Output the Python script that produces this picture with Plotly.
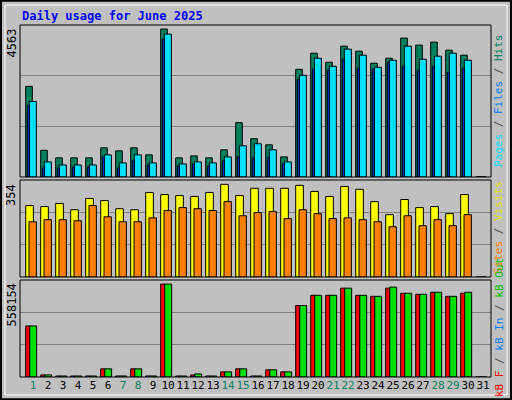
import plotly.graph_objects as go

days = list(range(1, 32))
hits = [2794, 823, 590, 590, 590, 900, 807, 900, 683, 4563, 590, 652, 590, 838, 1676, 1180, 993, 621,
        3321, 3818, 3539, 4035, 3880, 3508, 3663, 4284, 4066, 4159, 3911, 3756, 0]
files = [2328, 466, 372, 372, 372, 683, 435, 683, 435, 4408, 404, 466, 435, 621, 962, 1024, 838, 466,
         3135, 3663, 3414, 3942, 3756, 3383, 3601, 4035, 3632, 3725, 3818, 3601, 0]
pages = [2204, 279, 279, 310, 310, 621, 279, 497, 372, 4252, 341, 404, 341, 497, 621, 590, 590, 404,
         3011, 3321, 3290, 3632, 3352, 3321, 3539, 3414, 3290, 3414, 3228, 3352, 0]
visits = [273, 269, 281, 257, 300, 292, 261, 257, 323, 315, 311, 308, 323, 354, 311, 339, 339, 339,
          350, 327, 308, 346, 335, 288, 238, 296, 265, 269, 242, 315, 0]
sites = [211, 219, 219, 215, 273, 230, 211, 211, 226, 254, 265, 261, 254, 288, 234, 246, 250, 223,
         257, 242, 223, 226, 219, 211, 192, 234, 196, 219, 196, 238, 0]
kb_out = [306675, 12267, 6134, 6134, 6134, 49068, 6134, 49068, 6134, 558154, 6134, 18401, 6134, 30668,
          49068, 6134, 42935, 30668, 429345, 490680, 490680, 533615, 490680, 484547, 539748, 502947,
          496814, 509081, 484547, 509081, 0]
kb_f = [306675, 12267, 6134, 6134, 6134, 49068, 6134, 49068, 6134, 558154, 6134, 12267, 6134, 30668,
        49068, 6134, 42935, 30668, 429345, 490680, 490680, 533615, 490680, 484547, 533615, 502947,
        496814, 509081, 484547, 502947, 0]
kb_in = [2500] * 30 + [0]
weekend = {1, 7, 8, 14, 15, 21, 22, 28, 29}
max1, max2, max3 = 4563, 354, 558154
top1, top2, top3 = max1 * 151 / 147, max2 * 96 / 91.7, max3 * 285 / 273

fig = go.Figure()
LINE = dict(color="black", width=1)

def bars(y, color, off, w, axis, line=True):
    fig.add_trace(go.Bar(x=days, y=y, offset=off, width=w, marker_color=color,
                         marker_line=LINE if line else dict(width=0),
                         xaxis="x" if axis == 1 else f"x{axis}",
                         yaxis="y" if axis == 1 else f"y{axis}", showlegend=False, hoverinfo="skip"))

bars(hits, "#00805C", -0.49, 0.44, 1)
bars(files, "#00E0FF", -0.25, 0.47, 1)
bars(pages, "#0040FF", -0.38, 0.13, 1)
bars(visits, "#FFFF00", -0.49, 0.51, 2)
bars(sites, "#FF8000", -0.27, 0.49, 2)
bars(kb_f, "#FF0000", -0.49, 0.30, 3)
bars(kb_out, "#00E000", -0.22, 0.46, 3)
bars(kb_in, "#0040FF", -0.40, 0.06, 3, line=False)

xd = [20 / 512, 491 / 512]
xr = [0.13, 31.53]
ticktext = [f"<span style='color:#00805C'>{d}</span>" if d in weekend else str(d) for d in days]
common_x = dict(range=xr, domain=xd, showgrid=False, zeroline=False, fixedrange=True)
lay = dict(
    width=512, height=400, margin=dict(l=0, r=0, t=0, b=0),
    paper_bgcolor="#C0C0C0", plot_bgcolor="#C0C0C0", barmode="overlay",
    font=dict(family="DejaVu Sans Mono", size=12, color="black"),
    xaxis=dict(**common_x, showticklabels=False, anchor="y"),
    xaxis2=dict(**common_x, showticklabels=False, anchor="y2"),
    xaxis3=dict(**common_x, anchor="y3", tickvals=days, ticktext=ticktext, ticks="", tickangle=0,
                tickfont=dict(size=11, family="DejaVu Sans Mono")),
)
for i, (top, dom) in enumerate([(top1, [1 - 177 / 400, 1 - 25 / 400]),
                                (top2, [1 - 277 / 400, 1 - 180 / 400]),
                                (top3, [1 - 377 / 400, 1 - 280 / 400])], start=1):
    lay["yaxis" if i == 1 else f"yaxis{i}"] = dict(
        range=[0, top], domain=dom, tickvals=[top / 3, 2 * top / 3], showticklabels=False,
        gridcolor="#808080", gridwidth=1, zeroline=False, fixedrange=True,
        anchor="x" if i == 1 else f"x{i}")
fig.update_layout(**lay)

shapes = [
    dict(type="rect", xref="paper", yref="paper", x0=0.002, y0=0.002, x1=0.998, y1=0.998,
         line=dict(color="black", width=2), layer="below"),
    dict(type="rect", xref="paper", yref="paper", x0=5 / 512, y0=5 / 400, x1=507 / 512, y1=395 / 400,
         line=dict(color="white", width=1), layer="below"),
]
for dom in [(177, 25), (277, 180), (377, 280)]:
    shapes.append(dict(type="rect", xref="paper", yref="paper", x0=xd[0], x1=xd[1],
                       y0=1 - dom[0] / 400, y1=1 - dom[1] / 400, line=dict(color="black", width=1)))
fig.update_layout(shapes=shapes)

ann = [dict(text="<b>Daily usage for June 2025</b>", x=20 / 512, y=1 - 16 / 400, xref="paper", yref="paper",
            xanchor="left", yanchor="middle", showarrow=False,
            font=dict(color="#0000FF", size=12, family="DejaVu Sans Mono"))]
for val, ytop in [(max1, 25), (max2, 180), (max3, 280)]:
    ann.append(dict(text=str(val), x=11 / 512, y=1 - (ytop + 2) / 400, xref="paper", yref="paper",
                    textangle=-90, xanchor="center", yanchor="top", showarrow=False,
                    font=dict(size=12, color="black")))
right = [
    ("<span style='color:#00E0FF'>Pages</span> / <span style='color:#0080FF'>Files</span> / "
     "<span style='color:#00805C'>Hits</span>", 101),
    ("<span style='color:#FF8000'>Sites</span> / <span style='color:#E0E000'>Visits</span>", 228),
    ("<span style='color:#FF0000'>kB F</span> / <span style='color:#0080FF'>kB In</span> / "
     "<span style='color:#00C000'>kB Out</span>", 328),
]
for txt, yc in right:
    ann.append(dict(text=txt, x=499 / 512, y=1 - yc / 400, xref="paper", yref="paper", textangle=-90,
                    xanchor="center", yanchor="middle", showarrow=False,
                    font=dict(size=11, color="#444444")))
fig.update_layout(annotations=ann)
fig.write_html("out.html", config={"displayModeBar": False},
               post_script="document.body.style.margin='0';document.body.style.overflow='hidden';")
